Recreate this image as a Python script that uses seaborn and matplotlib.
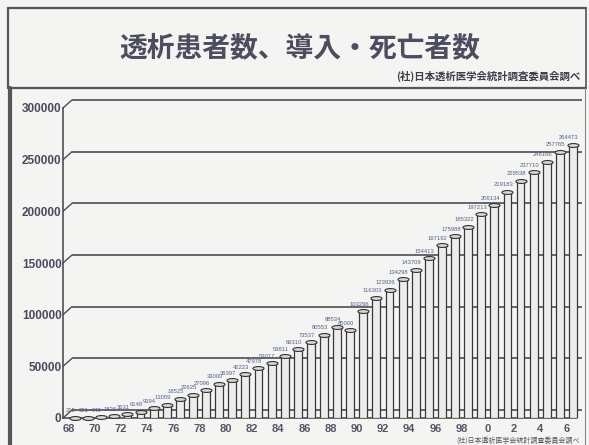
import matplotlib
matplotlib.use("Agg")
import matplotlib.pyplot as plt
import matplotlib.transforms as mtransforms
from matplotlib.path import Path
from matplotlib.lines import Line2D
import numpy as np
import pandas as pd
import seaborn as sns

# ---------------- data ----------------
years = ['68', '69', '70', '71', '72', '73', '74', '75', '76', '77',
         '78', '79', '80', '81', '82', '83', '84', '85', '86', '87',
         '88', '89', '90', '91', '92', '93', '94', '95', '96', '97',
         '98', '99', '0', '1', '2', '3', '4', '5', '6']
patients = [215, 301, 949, 1826, 3631, 6148, 9394, 13059, 18525, 22625,
            27096, 33000, 36397, 42223, 47978, 53017, 59811, 66310, 73537, 80553,
            88534, 85000, 103296, 116303, 123926, 134298, 143709, 154413, 167192, 175988,
            185322, 197213, 206134, 219183, 229538, 237710, 248166, 257765, 264473]
xtick_labels = years[::2]
yticks = [0, 50000, 100000, 150000, 200000, 250000, 300000]
ytick_labels = [str(t) for t in yticks]
title = '透析患者数、導入・死亡者数'
source = '(社)日本透析医学会統計調査委員会調べ'

# ---------------- style ----------------
sns.set_theme(style='white')
plt.rcParams['font.family'] = ['Noto Sans CJK JP', 'DejaVu Sans']

W, H = 589, 445
fig = plt.figure(figsize=(W / 100, H / 100), dpi=100)
bg = '#f4f4f2'
fig.patch.set_facecolor(bg)

ax = fig.add_axes([63 / W, 1 - 418 / H, 519 / W, 310 / H])
ax.set_facecolor('none')

df = pd.DataFrame({'year': years, 'patients': patients})
sns.barplot(data=df, x='year', y='patients', order=years, color='#ececec',
            saturation=1, edgecolor='#383838', linewidth=0.9, width=0.6, ax=ax,
            zorder=3)

# cylinder tops
t = np.linspace(0, 2 * np.pi, 40)
ell = Path(np.column_stack([np.cos(t), 0.35 * np.sin(t)]))
ax.plot(np.arange(len(years)), patients, ls='none', marker=ell, markersize=8,
        markerfacecolor='#d8d8d8', markeredgecolor='#333333', markeredgewidth=0.8,
        zorder=4, clip_on=False)

ax.set_xlim(-0.92, 38.69)
ax.set_ylim(0, 300000)

# back-wall gridlines (3D offset)
off = mtransforms.offset_copy(ax.transData, fig=fig, x=9, y=8, units='dots')
ax.hlines(yticks, -0.92, 38.0, colors='#4e4e4e', linewidth=1.2, transform=off,
          zorder=1, clip_on=False)
for yt in yticks:
    ax.annotate('', xy=(-0.92, yt), xytext=(6.5, 5.8), textcoords='offset points',
                arrowprops=dict(arrowstyle='-', color='#4e4e4e', lw=1.0,
                                shrinkA=0, shrinkB=0), annotation_clip=False)

# spines
for s in ['top', 'right', 'bottom']:
    ax.spines[s].set_visible(False)
ax.spines['left'].set_color('#505050')
ax.spines['left'].set_linewidth(1.2)
ax.plot([-0.92, 38.3], [0, 0], color='#505050', lw=1.2, zorder=2, clip_on=False)

ax.set_xlabel('')
ax.set_ylabel('')
ax.set_yticks(yticks)
ax.set_yticklabels(ytick_labels, fontfamily='Liberation Sans', fontweight='bold',
                   fontsize=8.5, color='#4a4a5e')
ax.set_xticks(np.arange(0, len(years), 2) - 0.5)
ax.set_xticklabels(xtick_labels, fontfamily='Liberation Sans', fontweight='bold',
                   fontsize=8, color='#555568')
ax.tick_params(axis='both', length=0)
ax.tick_params(axis='y', pad=1)
ax.tick_params(axis='x', pad=4)
ax.grid(False)

# value labels
for i, v in enumerate(patients):
    ax.annotate(str(v), xy=(i, v), xytext=(-3, 3.2), textcoords='offset points',
                ha='center', va='bottom', fontsize=4.2, color='#52628e',
                fontfamily='Liberation Sans', annotation_clip=False, zorder=5)

# title area
fig.text(300 / W, 1 - 48 / H, title, ha='center', va='center', fontsize=20,
         fontweight='bold', color='#4d4d60')
fig.text(580 / W, 1 - 76 / H, source, ha='right', va='center', fontsize=7.5,
         fontweight='bold', color='#3e3e4a')
fig.text(580 / W, 1 - 441 / H, source, ha='right', va='center', fontsize=5,
         color='#555560')

# frame lines
def fl(xs, ys, lw, c='#555555'):
    fig.add_artist(Line2D([x / W for x in xs], [1 - y / H for y in ys],
                          color=c, lw=lw, transform=fig.transFigure))

fl([8, 586], [8, 8], 1.6)
fl([8, 8], [8, 88], 1.6)
fl([586, 586], [8, 88], 1.2)
fl([8, 586], [88, 88], 1.6)
fl([10, 10], [88, 445], 3.0)
fl([585, 585], [88, 445], 0.8, '#888888')

fig.savefig('out.png', dpi=100, facecolor=bg)
